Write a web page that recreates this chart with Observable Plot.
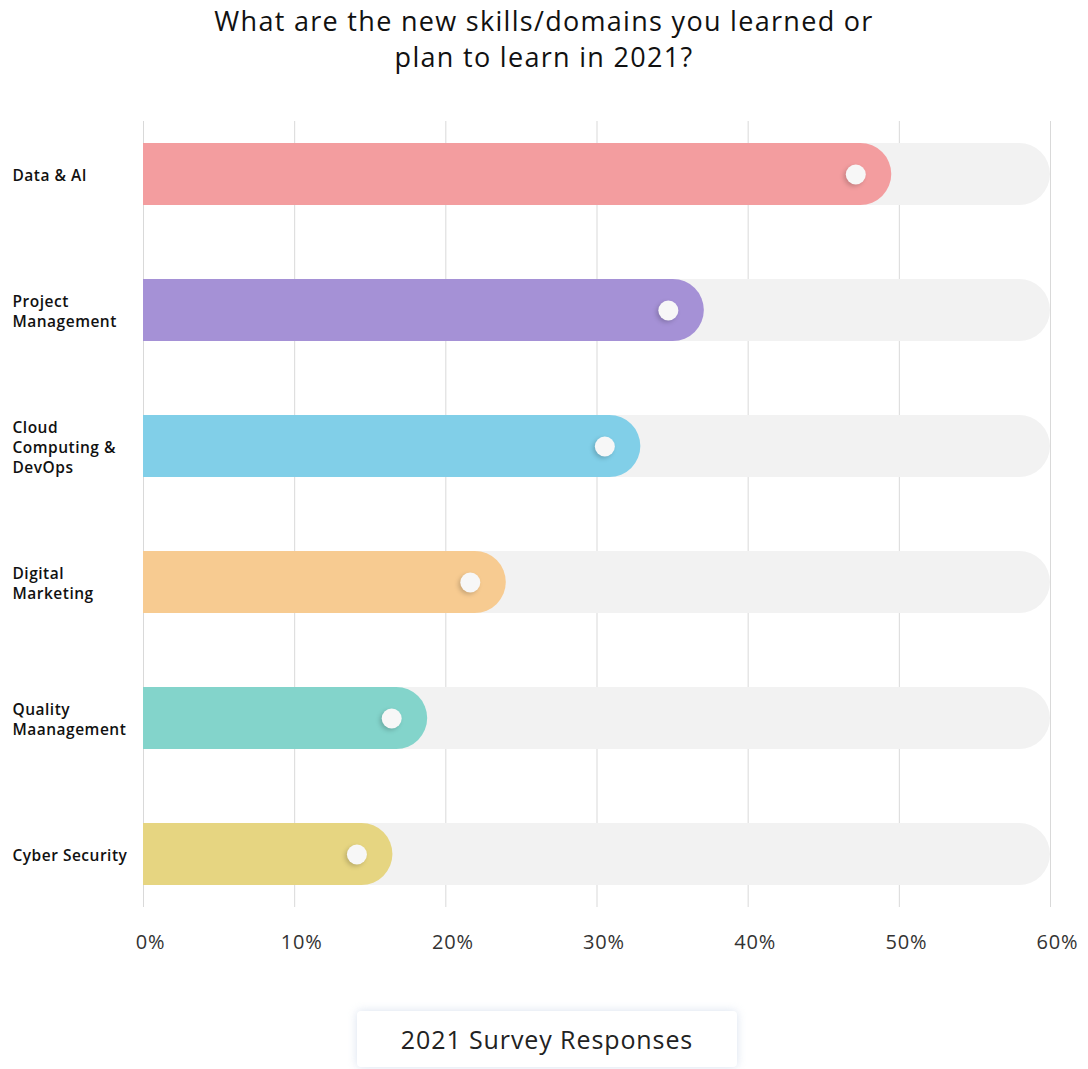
<!DOCTYPE html>
<html>
<head>
<meta charset="utf-8">
<script src="https://cdn.jsdelivr.net/npm/d3@7"></script>
<script src="https://cdn.jsdelivr.net/npm/@observablehq/plot@0.6"></script>
<style>
  html, body { margin: 0; padding: 0; background: #fff; }
  body { width: 1088px; height: 1069px; position: relative; font-family: "Open Sans", sans-serif; }
  #title { position: absolute; top: 3px; left: 0; width: 1088px; text-align: center; font-size: 27px; letter-spacing: 1.3px; line-height: 36px; font-weight: 500; color: #111; }
  #chart { position: absolute; top: 100px; left: 0; }
  #chart g[aria-label="y-axis tick label"] text { letter-spacing: 0.5px; }
  #chart g[aria-label="x-axis tick label"] text { letter-spacing: 0.8px; }
  #legend { position: absolute; top: 1011px; left: 357px; width: 380px; height: 56px; background: #fff; border-radius: 4px;
            box-shadow: 0 0 10px rgba(170,190,220,0.45); text-align: center; line-height: 56px; font-size: 25px; letter-spacing: 0.9px; color: #222; }
</style>
</head>
<body>
<div id="title">What are the new skills/domains you learned or<br>plan to learn in 2021?</div>
<div id="chart"></div>
<div id="legend">2021 Survey Responses</div>
<script>
const categories = ["Data & AI", "Project Management", "Cloud Computing & DevOps", "Digital Marketing", "Quality Maanagement", "Cyber Security"];
const labels = ["Data & AI", "Project\nManagement", "Cloud\nComputing &\nDevOps", "Digital\nMarketing", "Quality\nMaanagement", "Cyber Security"];
const values = [49.5, 37.1, 32.9, 24.0, 18.8, 16.5];
const colors = ["#f39d9f", "#a591d6", "#81cfe8", "#f7cb91", "#83d4cb", "#e6d581"];
const xTicks = [0, 10, 20, 30, 40, 50, 60];
const maxValue = 60;

const data = categories.map((c, i) => ({category: c, label: labels[i], value: values[i], color: colors[i]}));
const labelOf = new Map(categories.map((c, i) => [c, labels[i]]));

const chart = Plot.plot({
  width: 1088,
  height: 880,
  marginTop: 21,
  marginBottom: 73,
  marginLeft: 143,
  marginRight: 38,
  style: {fontFamily: "'Open Sans', sans-serif", background: "transparent"},
  x: {domain: [0, maxValue], ticks: xTicks},
  y: {domain: categories, paddingInner: 0.546, paddingOuter: 0.146},
  marks: [
    Plot.gridX(xTicks, {stroke: "#d9d9d9", strokeOpacity: 1, strokeWidth: 1}),
    Plot.barX(data, {y: "category", x1: -3, x2: maxValue, fill: "#f2f2f2", rx: 31, clip: true}),
    Plot.barX(data, {y: "category", x1: -3, x2: "value", fill: "color", rx: 31, clip: true}),
    Plot.dot(data, {y: "category", x: "value", dx: -36, r: 10, fill: "#f7f7f7", stroke: null}),
    Plot.axisX(xTicks, {tickSize: 0, tickPadding: 27, fontSize: 20, fill: "#333", dx: 7, tickFormat: d => d + "%", label: null}),
    Plot.axisY({tickSize: 0, tickPadding: 0, textAnchor: "start", dx: -131, fontSize: 15.5, fontWeight: 600, fill: "#111", lineHeight: 1.3, tickFormat: d => labelOf.get(d), label: null})
  ]
});
document.getElementById("chart").appendChild(chart);
chart.querySelectorAll("circle").forEach(c => c.style.filter = "drop-shadow(-2px 2px 2px rgba(0,0,0,0.18))");
</script>
</body>
</html>
